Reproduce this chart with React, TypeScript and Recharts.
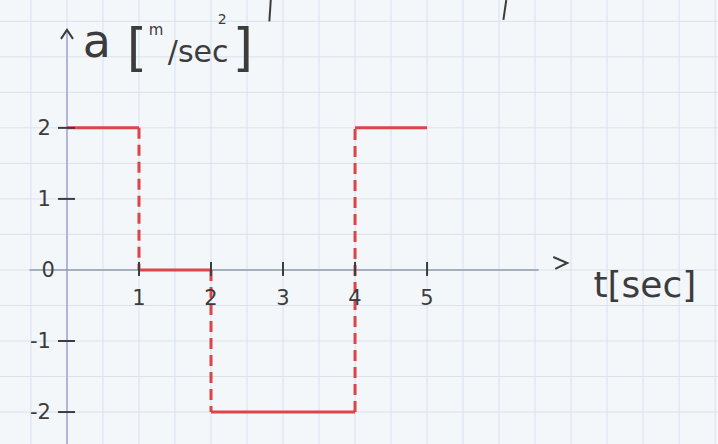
import { LineChart, Line, XAxis, YAxis, ReferenceLine, ReferenceDot } from 'recharts';

// step boundaries on the time axis and the acceleration held in each interval
const stepTimes = [0, 1, 2, 4, 5];
const stepValues = [2, 0, -2, 2];

const yTicks = [2, 1, 0, -1, -2];
const yTickLabels = ['2', '1', '0', '-1', '-2'];
const xTicks = [1, 2, 3, 4, 5];
const xTickLabels = ['1', '2', '3', '4', '5'];

// squared paper, half a unit per square
const gridX = [-0.5, 0, 0.5, 1, 1.5, 2, 2.5, 3, 3.5, 4, 4.5, 5, 5.5, 6, 6.5, 7, 7.5, 8, 8.5, 9];
const gridY = [-2.5, -2, -1.5, -1, -0.5, 0, 0.5, 1, 1.5, 2, 2.5, 3, 3.5];

const W = 718;
const H = 444;
const X_DOMAIN: [number, number] = [-0.93, 9.04];
const Y_DOMAIN: [number, number] = [-2.45, 3.8];

const RED = '#dc4448';
const INK = '#3c3c3c';
const FONT = 'DejaVu Sans, sans-serif';

// horizontal pieces (solid) and jumps (dashed), split with nulls
const solidData: { t: number; a: number | null }[] = [];
stepValues.forEach((v, i) => {
  solidData.push({ t: stepTimes[i], a: v });
  solidData.push({ t: stepTimes[i + 1], a: v });
  solidData.push({ t: stepTimes[i + 1], a: null });
});
const jumpData: { t: number; a: number | null }[] = [];
for (let i = 0; i < stepValues.length - 1; i++) {
  const t = stepTimes[i + 1];
  jumpData.push({ t, a: stepValues[i] });
  jumpData.push({ t, a: stepValues[i + 1] });
  jumpData.push({ t, a: null });
}

const YTick = (label: string) => (props: any) => {
  const { cx, cy } = props;
  return (
    <g>
      {label !== '0' && <line x1={cx - 9} x2={cx + 8} y1={cy} y2={cy} stroke={INK} strokeWidth={2} />}
      <text x={label === '0' ? cx - 12 : cx - 16} y={cy + 7} textAnchor="end" fontSize={21} fontFamily={FONT} fill={INK}>
        {label}
      </text>
    </g>
  );
};

const XTick = (label: string) => (props: any) => {
  const { cx, cy } = props;
  return (
    <g>
      <line x1={cx} x2={cx} y1={cy - 8} y2={cy + 6} stroke={INK} strokeWidth={2} />
      <text x={cx} y={cy + 35} textAnchor="middle" fontSize={21} fontFamily={FONT} fill={INK}>
        {label}
      </text>
    </g>
  );
};

const ArrowUp = (props: any) => {
  const { cx, cy } = props;
  return <path d={`M${cx - 6},${cy + 9} L${cx},${cy} L${cx + 6},${cy + 9}`} fill="none" stroke={INK} strokeWidth={2} />;
};

const ArrowRight = (props: any) => {
  const { cx, cy } = props;
  return <path d={`M${cx - 7},${cy - 8} L${cx + 7},${cy - 2} L${cx - 5},${cy + 4}`} fill="none" stroke={INK} strokeWidth={2} />;
};

const YTitle = (props: any) => {
  const { cx, cy } = props;
  return (
    <g fontFamily={FONT} fill={INK}>
      <text x={cx} y={cy} fontSize={46}>a</text>
      <text x={cx + 44} y={cy + 8} fontSize={52}>[</text>
      <text x={cx + 66} y={cy - 22} fontSize={15}>m</text>
      <text x={cx + 85} y={cy + 5} fontSize={30}>/sec</text>
      <text x={cx + 135} y={cy - 33} fontSize={14}>2</text>
      <text x={cx + 150} y={cy + 8} fontSize={52}>]</text>
    </g>
  );
};

const XTitle = (props: any) => {
  const { cx, cy } = props;
  return (
    <text x={cx} y={cy} fontSize={36} fontFamily={FONT} fill={INK}>
      t[sec]
    </text>
  );
};

export default function App() {
  return (
    <div style={{ position: 'absolute', left: 0, top: 0, width: W, height: H, background: '#f4f7fa' }}>
      <LineChart width={W} height={H} margin={{ top: 0, right: 0, bottom: 0, left: 0 }}>
        <XAxis type="number" dataKey="t" domain={X_DOMAIN} allowDataOverflow hide />
        <YAxis type="number" dataKey="a" domain={Y_DOMAIN} allowDataOverflow hide />

        {gridX.map((x) => (
          <ReferenceLine key={`gx${x}`} x={x} stroke="#d9e2ed" strokeWidth={1} ifOverflow="visible" />
        ))}
        {gridY.map((y) => (
          <ReferenceLine key={`gy${y}`} y={y} stroke="#d9e2ed" strokeWidth={1} ifOverflow="visible" />
        ))}

        {/* axes */}
        <ReferenceLine segment={[{ x: 0, y: -2.45 }, { x: 0, y: 3.38 }]} stroke="#a0a4d2" strokeWidth={1.5} />
        <ReferenceLine segment={[{ x: -0.52, y: 0 }, { x: 6.55, y: 0 }]} stroke="#8e9cab" strokeWidth={1.5} />
        <ReferenceDot x={0} y={3.38} r={0} shape={<ArrowUp />} />
        <ReferenceDot x={6.85} y={0.07} r={0} shape={<ArrowRight />} />

        {yTicks.map((v, i) => (
          <ReferenceDot key={`yt${v}`} x={0} y={v} r={0} shape={YTick(yTickLabels[i])} />
        ))}
        {xTicks.map((v, i) => (
          <ReferenceDot key={`xt${v}`} x={v} y={0} r={0} shape={XTick(xTickLabels[i])} />
        ))}

        <ReferenceDot x={0.22} y={3.0} r={0} shape={<YTitle />} />
        <ReferenceDot x={7.31} y={-0.38} r={0} shape={<XTitle />} />

        {/* stray pen strokes from the notebook page */}
        <ReferenceLine segment={[{ x: 2.83, y: 3.8 }, { x: 2.81, y: 3.5 }]} stroke={INK} strokeWidth={2} />
        <ReferenceLine segment={[{ x: 6.1, y: 3.8 }, { x: 6.06, y: 3.52 }]} stroke={INK} strokeWidth={2} />

        <Line
          data={solidData}
          dataKey="a"
          type="linear"
          stroke={RED}
          strokeWidth={3}
          dot={false}
          activeDot={false}
          isAnimationActive={false}
        />
        <Line
          data={jumpData}
          dataKey="a"
          type="linear"
          stroke={RED}
          strokeWidth={3}
          strokeDasharray="11 6"
          dot={false}
          activeDot={false}
          isAnimationActive={false}
        />
      </LineChart>
    </div>
  );
}
